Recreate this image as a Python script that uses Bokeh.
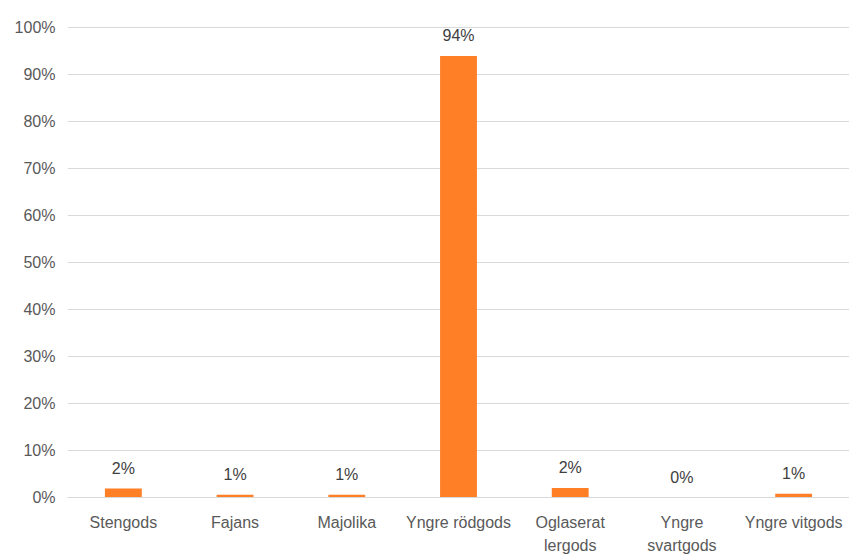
from bokeh.plotting import figure
from bokeh.models import (ColumnDataSource, FixedTicker, NumeralTickFormatter, Range1d,
                          CategoricalAxis, CustomJSTickFormatter)
from bokeh.core.properties import value
from bokeh.embed import file_html
from bokeh.resources import INLINE

categories = ["Stengods", "Fajans", "Majolika", "Yngre rödgods", "Oglaserat lergods", "Yngre svartgods", "Yngre vitgods"]
label_line1 = ["Stengods", "Fajans", "Majolika", "Yngre rödgods", "Oglaserat", "Yngre", "Yngre vitgods"]
label_line2 = ["", "", "", "", "lergods", "svartgods", ""]
shares = [0.019, 0.006, 0.006, 0.940, 0.020, 0.0, 0.008]
y_ticks = [0.0, 0.1, 0.2, 0.3, 0.4, 0.5, 0.6, 0.7, 0.8, 0.9, 1.0]

labels = [f"{round(v * 100):.0f}%" for v in shares]
src = ColumnDataSource(dict(cat=categories, val=shares, lab=labels))

FONT = "Liberation Sans"

p = figure(x_range=categories, y_range=Range1d(0, 1.005), width=849, height=556,
           output_backend="svg", toolbar_location=None,
           min_border_left=67, min_border_right=0, min_border_top=25, min_border_bottom=58)
p.outline_line_color = None
p.vbar(x="cat", top="val", width=0.33, source=src, fill_color="#FF7F27", line_color=None)
p.text(x="cat", y="val", text="lab", source=src, text_align="center", text_baseline="bottom",
       y_offset=-12, text_font=value(FONT), text_font_size="16px", text_color="#404040")

p.yaxis.ticker = FixedTicker(ticks=y_ticks)
p.yaxis.formatter = NumeralTickFormatter(format="0%")
p.yaxis.axis_line_color = None
p.yaxis.major_tick_line_color = None
p.yaxis.minor_tick_line_color = None
p.yaxis.major_tick_out = 0
p.yaxis.major_label_text_font = FONT
p.yaxis.major_label_text_font_size = "16px"
p.yaxis.major_label_text_color = "#595959"
p.yaxis.major_label_standoff = 12

fmt_code = "const i = cats.indexOf(tick); return i >= 0 ? names[i] : '';"

ax1 = p.xaxis[0]
ax1.axis_line_color = "#D9D9D9"
ax1.major_tick_line_color = None
ax1.minor_tick_line_color = None
ax1.major_tick_out = 0
ax1.major_label_text_font = FONT
ax1.major_label_text_font_size = "16px"
ax1.major_label_text_color = "#595959"
ax1.major_label_standoff = 16
ax1.formatter = CustomJSTickFormatter(args=dict(cats=categories, names=label_line1), code=fmt_code)

ax2 = CategoricalAxis(axis_line_color=None, major_tick_line_color=None, minor_tick_line_color=None,
                      major_tick_out=0, major_tick_in=0,
                      major_label_text_font=FONT, major_label_text_font_size="16px",
                      major_label_text_color="#595959", major_label_standoff=3,
                      formatter=CustomJSTickFormatter(args=dict(cats=categories, names=label_line2),
                                                      code=fmt_code))
p.add_layout(ax2, "below")

p.xgrid.grid_line_color = None
p.ygrid.grid_line_color = "#D9D9D9"
p.ygrid.grid_line_width = 1

open("out.html", "w").write(file_html(p, INLINE))
